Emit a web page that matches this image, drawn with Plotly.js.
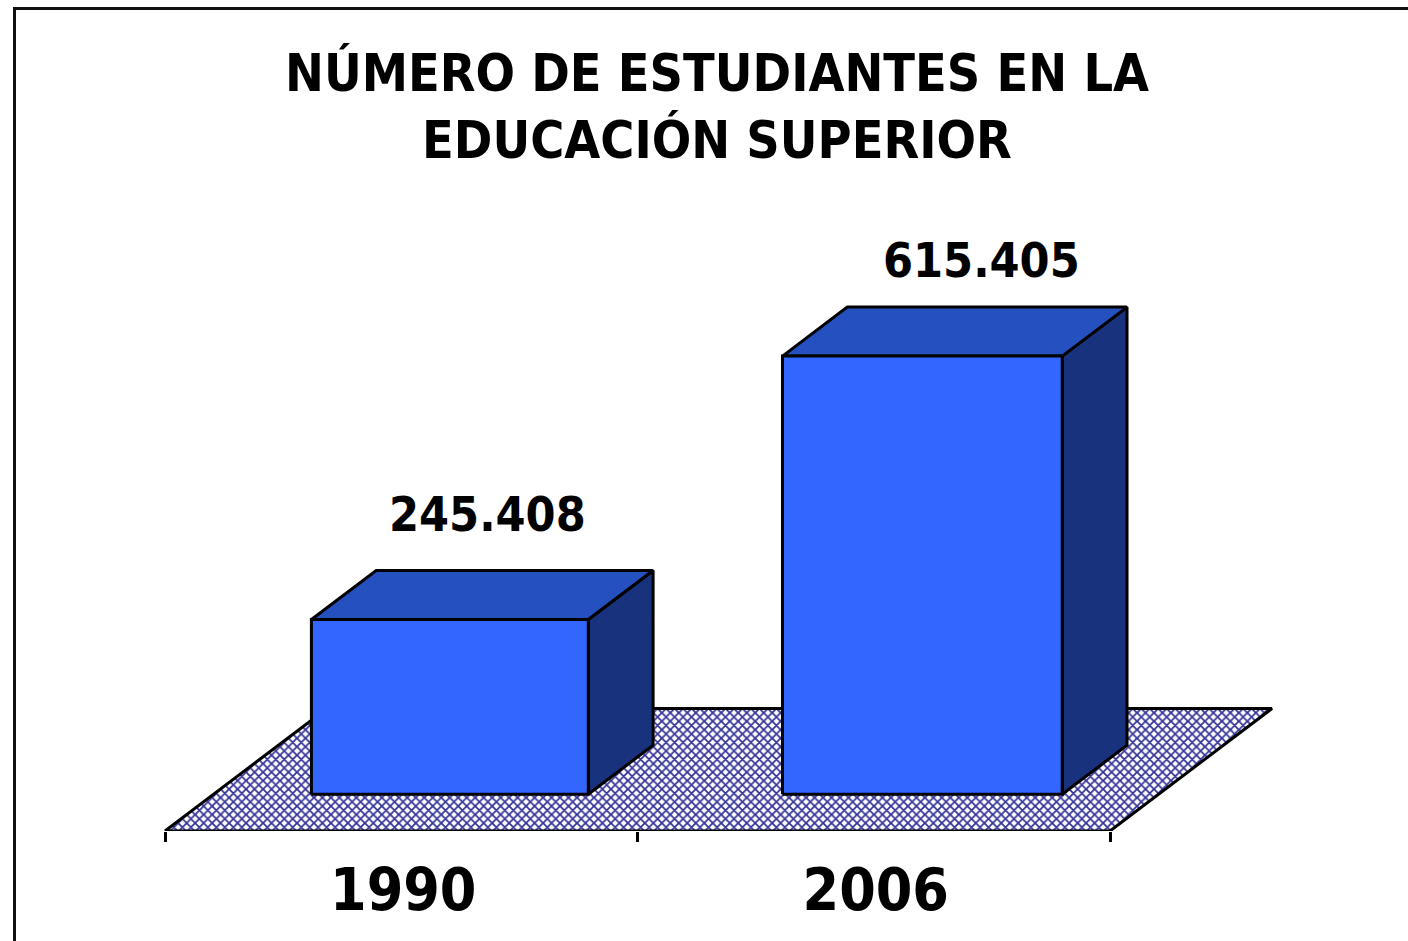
<!DOCTYPE html>
<html><head><meta charset="utf-8">
<script src="https://cdn.plot.ly/plotly-3.0.1.min.js"></script>
<style>html,body{margin:0;padding:0;background:#fff;overflow:hidden}</style>
</head><body><div id="chart" style="width:1408px;height:941px"></div>
<script>
const categories = ['1990', '2006'];
const values = [245408, 615405];
const valueLabels = ['245.408', '615.405'];
const titleLines = ['NÚMERO DE ESTUDIANTES EN LA', 'EDUCACIÓN SUPERIOR'];

const W = 1408, H = 941;
const FONT = '"DejaVu Sans Condensed","DejaVu Sans",sans-serif';
// axis geometry
const floorPx = 831, leftPx = 165, catPx = 472.5, unitPx = 0.000712;
const depthX = 162 / catPx, depthY = 122.5 / unitPx;   // full floor depth in axis units
const frontD = 0.3, backD = 0.7;
const halfWidths = [0.293, 0.296];
// label placement relative to each bar, in pixels
const labelShiftPx = [37.5, 59], labelRisePx = [52, 42], tickShiftPx = 2;

const proj = (c, v, d) => [c + d * depthX, v + d * depthY];
function poly(pts, fill, extra) {
  const p = pts.concat([pts[0]]);
  return Object.assign({
    type: 'scatter', mode: 'lines', x: p.map(a => a[0]), y: p.map(a => a[1]),
    fill: 'toself', fillcolor: fill, line: {color: '#000', width: 3, shape:'linear'},
    hoverinfo: 'skip', showlegend: false
  }, extra || {});
}
const traces = [];
traces.push(poly([proj(-0.5,0,0), proj(1.5,0,0), proj(1.5,0,1), proj(-0.5,0,1)], 'rgba(0,0,0,0)', {
  fillpattern: {shape: 'x', size: 6, solidity: 0.5, fgcolor: '#333399', bgcolor: '#ffffff', fillmode:'replace'}
}));
values.forEach((v, i) => {
  const l = i - halfWidths[i], r = i + halfWidths[i];
  traces.push(poly([proj(r,0,frontD), proj(r,0,backD), proj(r,v,backD), proj(r,v,frontD)], '#18327e'));
  traces.push(poly([proj(l,v,frontD), proj(r,v,frontD), proj(r,v,backD), proj(l,v,backD)], '#2550c0'));
  traces.push(poly([proj(l,0,frontD), proj(r,0,frontD), proj(r,v,frontD), proj(l,v,frontD)], '#3366ff'));
});
traces.push({
  type: 'scatter', mode: 'text', hoverinfo: 'skip', showlegend: false,
  x: values.map((v, i) => proj(i, v, frontD)[0] + labelShiftPx[i] / catPx),
  y: values.map((v, i) => proj(i, v, backD)[1] + labelRisePx[i] / unitPx),
  text: valueLabels, textposition: 'middle center',
  textfont: {family: FONT, size: 48, color: '#000', weight: 700}
});

const layout = {
  width: W, height: H, paper_bgcolor: '#fff', plot_bgcolor: 'rgba(0,0,0,0)',
  margin: {l: 0, r: 0, t: 0, b: H - floorPx, pad: 0},
  showlegend: false,
  title: {
    text: titleLines.join('<br>'), x: 717 / W, xanchor: 'center', xref: 'paper',
    y: 1 - 90.5 / H, yanchor: 'middle', yref: 'container',
    font: {family: FONT, size: 51.7, color: '#000', weight: 700}
  },
  xaxis: {
    range: [-0.5 - leftPx / catPx, -0.5 + (W - leftPx) / catPx], fixedrange: true,
    tickmode: 'array', tickvals: [tickShiftPx / catPx, 1 + tickShiftPx / catPx], ticktext: categories, ticks: '',
    ticklabelstandoff: 19, showgrid: false, zeroline: false, showline: false,
    tickfont: {family: FONT, size: 58.5, color: '#000', weight: 700},
    minor: {tickmode: 'array', tickvals: [-0.5, 0.5, 1.5], ticks: 'outside', ticklen: 10, tickwidth: 3, tickcolor: '#000', showgrid: false}
  },
  yaxis: {range: [0, floorPx / unitPx], visible: false, fixedrange: true},
  shapes: [{
    type: 'path', xref: 'paper', yref: 'paper', layer: 'above',
    path: `M ${14.5/W} ${-0.2} L ${14.5/W} ${(floorPx-8.5)/floorPx} L 1.02 ${(floorPx-8.5)/floorPx}`,
    line: {color: '#111', width: 3}
  }]
};
Plotly.newPlot('chart', traces, layout, {displayModeBar: false, staticPlot: true});
</script></body></html>
